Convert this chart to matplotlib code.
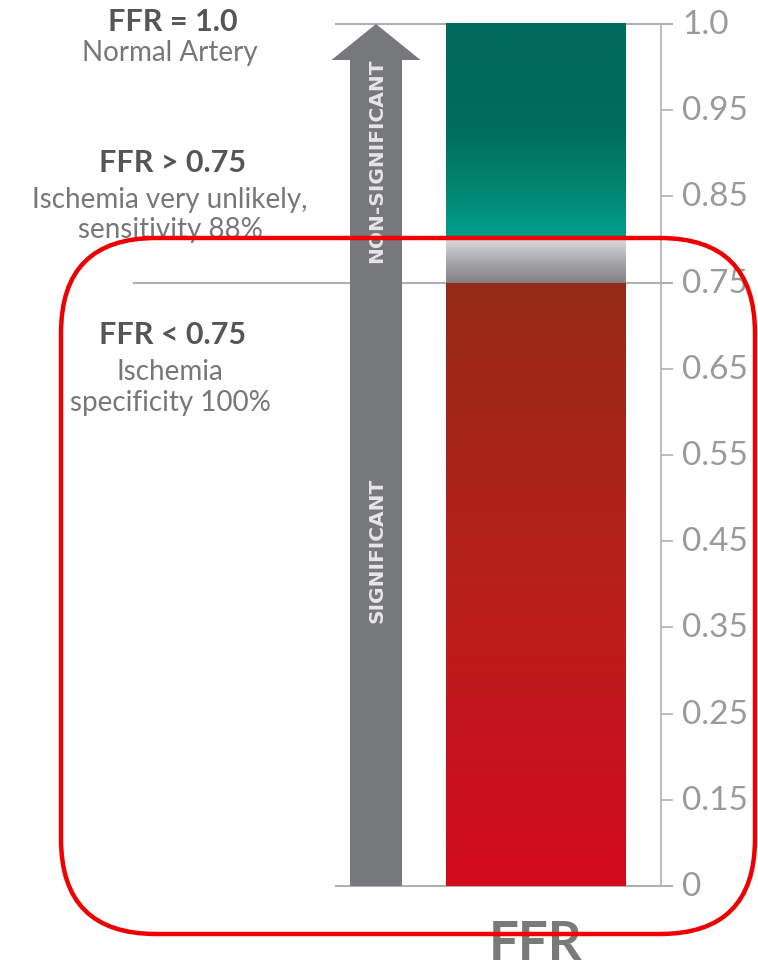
import numpy as np
import matplotlib.pyplot as plt
from matplotlib.colors import LinearSegmentedColormap
from matplotlib.patches import FancyBboxPatch

# FFR scale: evenly spaced ticks, labels are not linear
tick_labels = ['0', '0.15', '0.25', '0.35', '0.45', '0.55', '0.65', '0.75', '0.85', '0.95', '1.0']
tick_pos = np.arange(len(tick_labels))

# zone edges on the tick scale
cutoff_pos = 7.0      # 0.75
grey_top = 7.5        # grey band above the cut-off
scale_top = 10.0      # 1.0

red_colors = ['#d20a1e', '#b8201c', '#952a18']
grey_colors = ['#808085', '#a9a9ad', '#dcd8dc']
teal_colors = ['#00a08c', '#00846f', '#006e5e', '#006a5b', '#006a5b']

# (position, text, bold)
notes = [
    (10.03, 'FFR = 1.0', True),
    (9.67, 'Normal Artery', False),
    (8.40, 'FFR > 0.75', True),
    (7.97, 'Ischemia very unlikely,', False),
    (7.62, 'sensitivity 88%', False),
    (6.40, 'FFR < 0.75', True),
    (5.97, 'Ischemia', False),
    (5.61, 'specificity 100%', False),
]

fig = plt.figure(figsize=(7.58, 9.70), dpi=100)
ax = fig.add_axes([0, 0, 1, 1])

font = 'Lato'
px_per_step = 86.2

def gradient_bar(x0, x1, y0, y1, colors):
    cmap = LinearSegmentedColormap.from_list('g', colors)
    grad = np.linspace(0, 1, 256).reshape(-1, 1)
    ax.imshow(grad, cmap=cmap, extent=[x0, x1, y0, y1], origin='lower',
              aspect='auto', interpolation='bicubic', zorder=2)

bar_x0, bar_x1 = 446, 626
gradient_bar(bar_x0, bar_x1, 0, cutoff_pos, red_colors)
gradient_bar(bar_x0, bar_x1, cutoff_pos, grey_top, grey_colors)
gradient_bar(bar_x0, bar_x1, grey_top, scale_top, teal_colors)

# reference lines and scale
line_col = '#b0b0b0'
ax.hlines([0, scale_top], 335, 673, color=line_col, lw=1.5, zorder=1)
ax.hlines(cutoff_pos, 133, 673, color=line_col, lw=1.5, zorder=1)
ax.vlines(661, 0, scale_top, color=line_col, lw=1.2, zorder=1)
ax.hlines(tick_pos, 661, 673, color=line_col, lw=1.2, zorder=1)
for p, lab in zip(tick_pos, tick_labels):
    ax.text(682, p, lab, ha='left', va='center', fontsize=24, color='#9a9a9a',
            family=font)

# arrow
ax.arrow(376, 0, 0, scale_top, width=52, head_width=89, head_length=36 / px_per_step,
         length_includes_head=True, color='#76787b', lw=0, zorder=3)
ax.text(377, 8.43, 'NON-SIGNIFICANT', rotation=90, ha='center', va='center',
        fontsize=14.5, fontweight='bold', color='#e6e6e6', family='Liberation Sans Narrow', zorder=4)
ax.text(377, 3.9, 'SIGNIFICANT', rotation=90, ha='center', va='center',
        fontsize=14.5, fontweight='bold', color='#e6e6e6', family='Liberation Sans Narrow', zorder=4)

# annotations on the left
for pos, txt, bold in notes:
    if bold:
        ax.text(173, pos, txt, ha='center', va='center', fontsize=22, fontweight='bold',
                color='#555555', family=font)
    else:
        ax.text(170, pos, txt, ha='center', va='center', fontsize=20,
                color='#777777', family=font)

ax.text(536, -0.67, 'FFR', ha='center', va='center', fontsize=38, fontweight='bold',
        color='#7a7a7a', family=font)

ax.set_xlim(0, 758)
ax.set_ylim(-83 / px_per_step, 887 / px_per_step)
ax.axis('off')

# red outline box drawn in pixel coordinates
ov = fig.add_axes([0, 0, 1, 1])
ov.set_xlim(0, 758)
ov.set_ylim(970, 0)
ov.axis('off')
ov.patch.set_alpha(0)
ov.add_patch(FancyBboxPatch((61, 239), 694, 696, boxstyle='round,pad=0,rounding_size=95',
                            fill=False, ec='#ee0000', lw=3.2))

fig.savefig('out.png', dpi=100)
